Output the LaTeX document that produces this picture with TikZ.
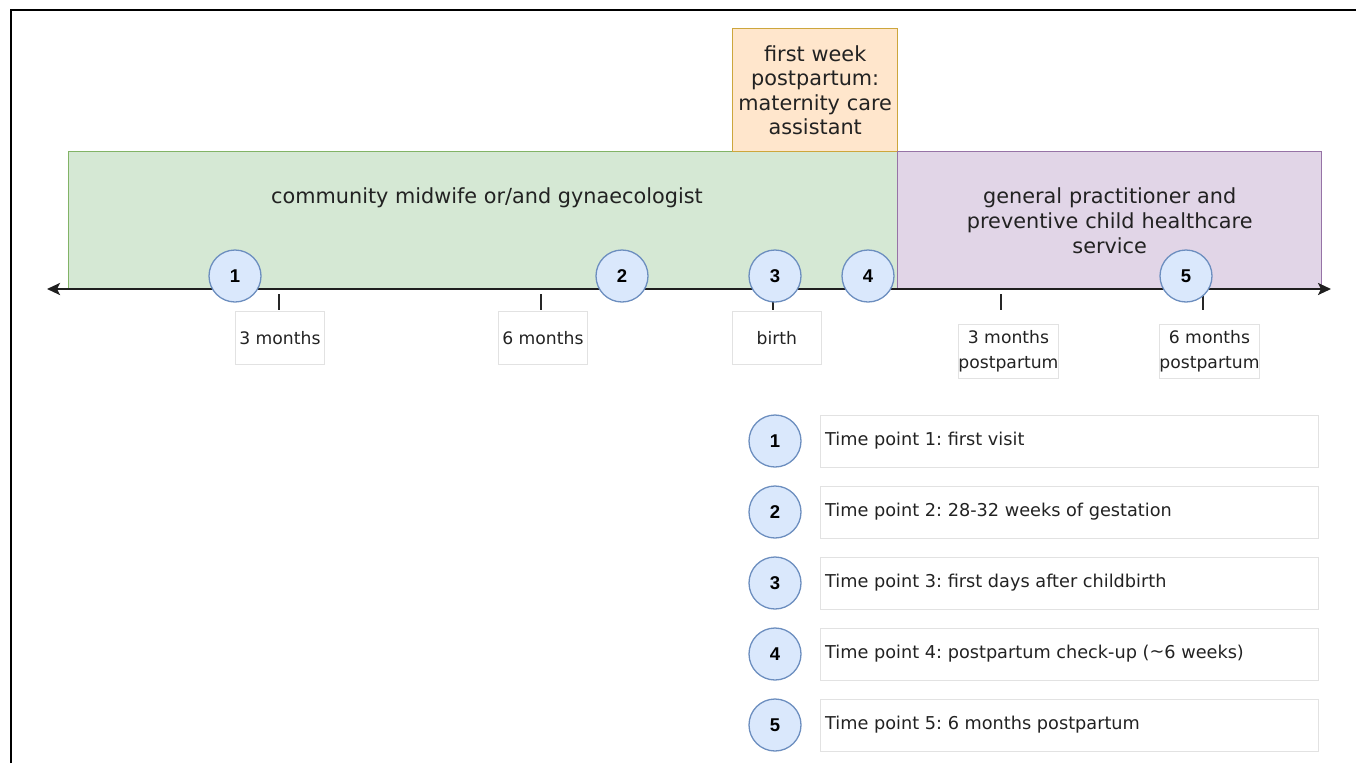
\documentclass[tikz,border=0pt]{standalone}
\usepackage{fontspec}
\setmainfont{DejaVu Sans}
\newfontfamily\numfont{Liberation Sans}
\usetikzlibrary{arrows.meta}
\frenchspacing
\definecolor{gfill}{HTML}{D5E8D4}
\definecolor{gline}{HTML}{82B366}
\definecolor{ofill}{HTML}{FFE6CC}
\definecolor{oline}{HTML}{CDA63C}
\definecolor{pfill}{HTML}{E1D5E7}
\definecolor{pline}{HTML}{9673A6}
\definecolor{cfill}{HTML}{DAE8FC}
\definecolor{cline}{HTML}{6C8EBF}
\definecolor{lblline}{HTML}{E2E2E2}
\definecolor{txt}{HTML}{222222}
\tikzset{
  area/.style={draw, line width=1.4pt, anchor=north west, inner sep=0pt, align=center, text=txt,
     font=\fontsize{20.8}{24.6}\selectfont},
  tp/.style={circle, draw=cline, fill=cfill, line width=1.3pt, minimum size=52pt, inner sep=0pt,
     font=\numfont\bfseries\fontsize{18.5}{18.5}\selectfont, text=black},
  lbl/.style={draw=lblline, line width=0.8pt, anchor=north west, inner sep=0pt, align=center,
     text=txt, font=\fontsize{17.2}{25}\selectfont},
  legbox/.style={draw=lblline, line width=0.9pt, anchor=north west, minimum width=498pt,
     minimum height=52pt, inner sep=0pt},
  legtext/.style={anchor=west, inner sep=0pt, text=txt, font=\fontsize{17.7}{20}\selectfont},
  axisline/.style={line width=2.4pt, draw=black!88, {Stealth[length=13pt,width=12pt,inset=3pt]}-{Stealth[length=13pt,width=12pt,inset=3pt]}},
  tick/.style={line width=1.6pt, draw=black!85},
  frame/.style={line width=2.4pt, draw=black}
}
\begin{document}
\begin{tikzpicture}[x=1pt,y=-1pt]
\useasboundingbox (0,0) rectangle (1356,763);
% frame
\coordinate (fbl) at (11,763);
\coordinate (ftl) at (11,10);
\coordinate (ftr) at (1356,10);
\draw[frame] (fbl) -- (ftl) -- (ftr);
% areas
\node[area, fill=gfill, draw=gline, minimum width=829pt, minimum height=138pt] (green) at (68,151) {};
\node[text=txt, font=\fontsize{20.8}{24.6}\selectfont] (greentext) at (487,198) {community midwife or/and gynaecologist};
\node[area, fill=ofill, draw=oline, minimum width=165pt, minimum height=123pt, text width=160pt] (orange) at (732,28)
  {first week\\postpartum:\\maternity care\\assistant};
\node[area, fill=pfill, draw=pline, minimum width=424pt, minimum height=138pt, text width=400pt] (purple) at (897,151)
  {general practitioner and\\preventive child healthcare\\service};
% axis
\coordinate (axL) at (47,289);
\coordinate (axR) at (1331,289);
\draw[axisline] (axL) -- (axR);
% ticks
\foreach \n/\x/\y in {a/279/294, b/541/294, c/773/300, d/1001/294, e/1203/294}{
  \coordinate (tk\n) at (\x,\y);
  \coordinate (tke\n) at (\x,310);
  \draw[tick] (tk\n) -- (tke\n);
}
% labels
\node[lbl, minimum width=89pt, minimum height=53pt] (l1) at (235,311) {3 months};
\node[lbl, minimum width=89pt, minimum height=53pt] (l2) at (498,311) {6 months};
\node[lbl, minimum width=89pt, minimum height=53pt] (l3) at (732,311) {birth};
\node[lbl, minimum width=90pt, minimum height=54pt] (l4) at (958,324) {3 months\\postpartum};
\node[lbl, minimum width=90pt, minimum height=54pt] (l5) at (1159,324) {6 months\\postpartum};
% time point circles on the axis
\node[tp] (c1) at (235,276) {1};
\node[tp] (c2) at (622,276) {2};
\node[tp] (c3) at (775,276) {3};
\node[tp] (c4) at (868,276) {4};
\node[tp] (c5) at (1186,276) {5};
% legend
\foreach \i/\t in {1/{Time point 1: first visit},
                   2/{Time point 2: 28-32 weeks of gestation},
                   3/{Time point 3: first days after childbirth},
                   4/{Time point 4: postpartum check-up (\raisebox{0.15ex}{\char"007E}6 weeks)},
                   5/{Time point 5: 6 months postpartum}}{
  \node[legbox] (lb\i) at (820,{415+71*(\i-1)}) {};
  \node[legtext] (lt\i) at (825,{441+71*(\i-1)}) {\t};
  \node[tp] (lc\i) at (775,{441+71*(\i-1)}) {\i};
}
\end{tikzpicture}
\end{document}
